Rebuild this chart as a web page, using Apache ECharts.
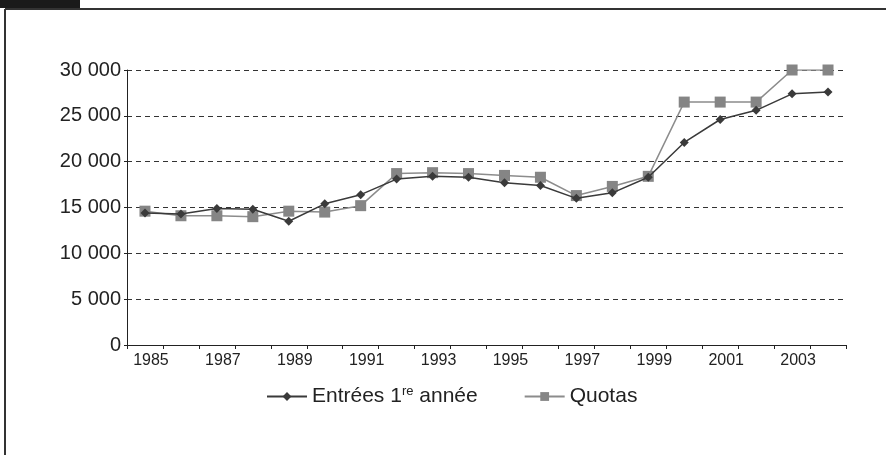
<!DOCTYPE html>
<html>
<head>
<meta charset="utf-8">
<script src="https://cdn.jsdelivr.net/npm/echarts@6/dist/echarts.min.js"></script>
<style>
  html, body { margin: 0; padding: 0; background: #fff; }
  #chart { width: 886px; height: 455px; }
</style>
</head>
<body>
<div id="chart"></div>
<script>
const years = ['1985', '1986', '1987', '1988', '1989', '1990', '1991', '1992', '1993', '1994',
  '1995', '1996', '1997', '1998', '1999', '2000', '2001', '2002', '2003', '2004'];
const entrees = [14400, 14300, 14900, 14800, 13500, 15400, 16400, 18100, 18400, 18300,
  17700, 17400, 16000, 16600, 18300, 22100, 24600, 25600, 27400, 27600];
const quotas = [14600, 14100, 14100, 14000, 14600, 14500, 15200, 18700, 18800, 18700,
  18500, 18300, 16300, 17300, 18400, 26500, 26500, 26500, 30000, 30000];

const chart = echarts.init(document.getElementById('chart'), null, { renderer: 'canvas' });

const font = 'Liberation Sans, Arial, sans-serif';

const option = {
  animation: false,
  textStyle: { fontFamily: font },
  graphic: [
    { type: 'rect', shape: { x: 0, y: 0, width: 80, height: 8 }, style: { fill: '#1a1a1a' } },
    { type: 'line', shape: { x1: 5, y1: 9, x2: 886, y2: 9 }, style: { stroke: '#333', lineWidth: 2 } },
    { type: 'line', shape: { x1: 5, y1: 9, x2: 5, y2: 455 }, style: { stroke: '#333', lineWidth: 2 } }
  ],
  grid: { left: 127, right: 40, top: 70, bottom: 110 },
  legend: {
    left: 261,
    top: 380,
    itemWidth: 40,
    itemHeight: 11,
    itemGap: 46,
    data: [
      { name: 'Entrées 1re année' },
      { name: 'Quotas' }
    ],
    formatter: function (name) {
      if (name === 'Quotas') return '{a|Quotas}';
      return '{a|Entrées 1}{s|re}{a| année}';
    },
    textStyle: {
      rich: {
        a: { fontSize: 21, color: '#222', fontFamily: font },
        s: { fontSize: 13, color: '#222', fontFamily: font, verticalAlign: 'bottom', padding: [0, 0, 10, 0] }
      }
    }
  },
  xAxis: {
    type: 'category',
    data: years,
    boundaryGap: true,
    axisLine: { lineStyle: { color: '#222', width: 1 } },
    axisTick: { show: true, length: 4, interval: 0, lineStyle: { color: '#222' } },
    axisLabel: { interval: 1, fontSize: 16, color: '#222', margin: 8, padding: [0, 0, 0, 12] }
  },
  yAxis: {
    type: 'value',
    min: 0,
    max: 30000,
    interval: 5000,
    axisLine: { show: true, lineStyle: { color: '#222', width: 1 } },
    axisTick: { show: true, length: 3, lineStyle: { color: '#222' } },
    axisLabel: {
      fontSize: 20,
      color: '#222',
      margin: 6,
      formatter: function (v) {
        return v === 0 ? '0' : String(v).replace(/\B(?=(\d{3})+(?!\d))/g, ' ');
      }
    },
    splitLine: { show: true, lineStyle: { color: '#333', type: [5, 4], width: 1 } }
  },
  series: [
    {
      name: 'Entrées 1re année',
      type: 'line',
      data: entrees,
      symbol: 'diamond',
      symbolSize: 9,
      z: 3,
      itemStyle: { color: '#3a3a3a' },
      lineStyle: { color: '#3a3a3a', width: 1.5 }
    },
    {
      name: 'Quotas',
      type: 'line',
      data: quotas,
      symbol: 'rect',
      symbolSize: 11,
      z: 2,
      itemStyle: { color: '#858585' },
      lineStyle: { color: '#8c8c8c', width: 1.5 }
    }
  ]
};

chart.setOption(option);
</script>
</body>
</html>
